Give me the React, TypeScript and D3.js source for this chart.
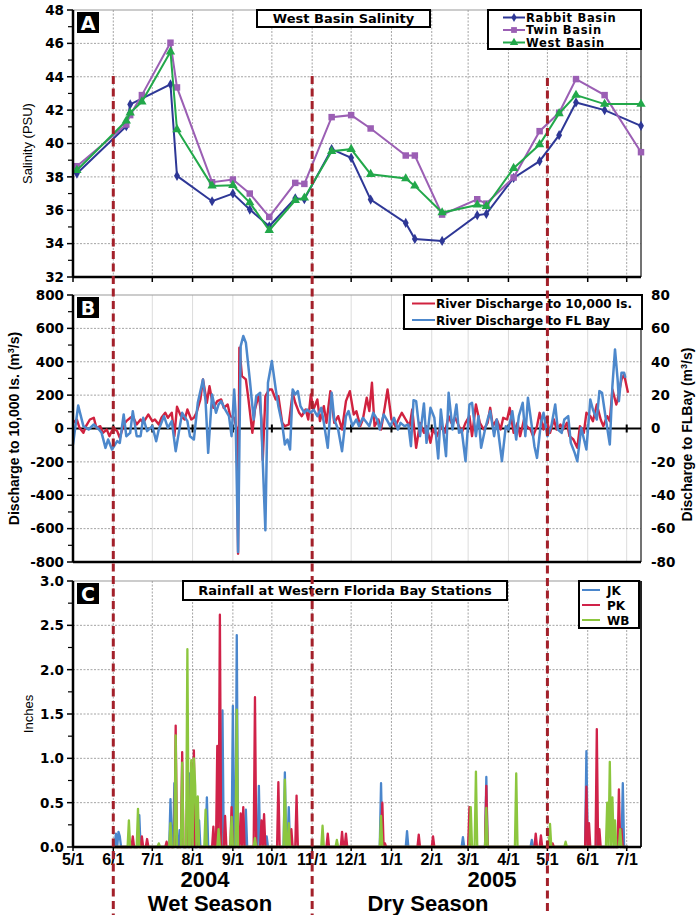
import React from "react";
import * as d3 from "d3";

const W = 697;
const H = 915;
const START = new Date(2004, 4, 1);
const END = new Date(2005, 6, 12);

// Panel A: salinity samples (PSU)
const salinityDates = [
  "2004-05-04", "2004-06-11", "2004-06-14", "2004-06-23", "2004-07-15", "2004-07-20",
  "2004-08-16", "2004-09-01", "2004-09-14", "2004-09-29", "2004-10-19", "2004-10-26",
  "2004-11-16", "2004-12-01", "2004-12-16", "2005-01-12", "2005-01-19", "2005-02-09",
  "2005-03-08", "2005-03-15", "2005-04-05", "2005-04-25", "2005-05-10", "2005-05-23",
  "2005-06-14", "2005-07-12",
];
const rabbitBasin = [38.2, 41.04, 42.34, null, 43.54, 38.06, 36.54, 37.0, 36.04, 35.04, 36.72, 36.66, 39.66, 39.14, 36.64, 35.24, 34.28, 34.16, 35.7, 35.78, 37.94, 38.94, 40.5, 42.46, 42.0, 41.06];
const twinBasin = [38.64, 41.14, 41.7, 42.9, 46.04, 43.36, 37.68, 37.84, 37.0, 35.6, 37.64, 37.58, 41.58, 41.7, 40.9, 39.28, 39.28, 35.74, 36.66, 36.4, 37.96, 40.74, 41.84, 43.86, 42.9, 39.48];
const westBasin = [38.4, 41.36, 41.84, 42.5, 45.5, 40.84, 37.46, 37.5, 36.46, 34.8, 36.6, 36.74, 39.54, 39.66, 38.16, 37.9, 37.46, 35.86, 36.32, 36.24, 38.52, 39.94, 41.8, 42.9, 42.36, 42.36];

// Panel B: [days since 5/1/2004, m3/s]
const dischargeIslands: [number, number][] = [
  [0, 34], [3, 54], [5, 4], [8, -26], [10, 14], [13, 54], [16, 64], [18, 4], [21, 14], [23, -26], [26, -6], [28, -46],
  [31, 4], [34, -16], [36, -56], [39, 24], [41, 44], [44, 64], [46, 74], [49, 24], [52, 54], [54, 34], [58, 84], [61, 44],
  [63, 54], [66, 24], [68, 64], [71, 94], [73, 64], [76, 94], [78, -46], [80, 130], [83, 74], [86, 54], [88, 114], [91, 54],
  [93, 64], [95, 94], [98, 174], [100, 294], [103, 154], [105, 254], [108, 124], [111, 164], [114, 174], [116, 124], [119, 144],
  [121, 74], [124, 64], [126, -6], [127, -750], [128, 484], [130, 314], [133, 294], [135, 174], [138, -26], [140, 114], [143, 204],
  [145, 54], [146, -190], [148, 194], [151, 234], [153, 234], [156, 174], [158, 194], [161, 34], [163, 14], [166, 24], [169, 214],
  [171, 154], [174, 94], [176, 74], [179, 114], [181, 54], [183, 204], [185, 114], [188, 174], [190, 44], [193, 134], [195, 34],
  [198, 224], [201, 34], [204, 74], [207, -6], [210, 164], [213, 224], [216, 84], [218, 104], [221, 14], [223, 54], [226, 184],
  [228, 104], [230, 274], [232, 14], [235, 54], [237, -6], [240, 134], [242, 234], [245, 54], [248, 14], [251, 64], [253, 94],
  [256, 54], [259, 14], [261, 114], [264, -116], [267, 34], [270, -26], [272, 14], [275, -86], [277, -6], [280, -46], [283, 14],
  [286, -26], [289, 74], [291, 34], [294, 64], [297, 14], [299, -26], [302, 34], [305, 74], [307, -46], [310, 144], [313, 34],
  [316, -6], [319, 34], [321, 124], [323, 14], [326, 54], [329, -6], [331, 64], [334, 54], [336, 124], [339, -26], [342, 34],
  [344, -46], [347, 54], [349, 14], [352, -6], [354, -46], [357, 14], [359, 94], [362, -6], [364, 64], [367, -26], [370, 54],
  [372, -6], [375, 24], [377, -6], [380, 34], [382, -46], [385, -66], [388, -116], [390, 14], [393, -26], [395, 94], [398, 74],
  [400, 44], [403, 144], [406, 54], [408, 14], [411, 74], [413, 44], [415, 234], [418, 144], [419, 174], [422, 294], [424, 324],
  [427, 214],
];
const dischargeFLBay: [number, number][] = [
  [0, -9.6], [4, 13.8], [8, 1.4], [12, -0.6], [16, 2.4], [20, -0.6], [22, -2.6], [25, -11.6], [27, -6.6], [30, -12.6], [34, -7.6],
  [36, -8.6], [39, 8.4], [41, -4.6], [44, -2.6], [46, 10.4], [49, -4.6], [52, -4.6], [54, 6.4], [57, -1.6], [61, 1.4], [64, -7.6],
  [66, -0.6], [70, 7.4], [73, 0.4], [76, 4.4], [79, -13.6], [82, 0.4], [84, 9.4], [88, 4.4], [90, -4.6], [93, -6.6], [96, 15.4],
  [100, 29.4], [102, 16.4], [104, -14.6], [107, 20.4], [110, 9.4], [112, 14.4], [114, 16.4], [117, 11.4], [120, 7.4], [122, -4.6],
  [124, 23.4], [125, 10.4], [127, -74], [129, 49.4], [131, 55.4], [133, 51.4], [136, 29.4], [139, 5.4], [141, 19.4], [144, 21.4],
  [148, -61], [150, 27.4], [153, 40.4], [156, 23.4], [158, 13.4], [161, 2.4], [163, -9.6], [165, -6.6], [167, -12.6], [169, 23.4],
  [171, 20.4], [173, 22.4], [175, 13.4], [178, 9.4], [180, 11.4], [183, 9.4], [185, 11.4], [188, 7.4], [191, 12.4], [193, 3.4],
  [196, -11.6], [199, 21.4], [201, 5.4], [204, -0.6], [207, -13.6], [210, 7.4], [212, 10.4], [215, 1.4], [218, 5.4], [220, 1.4],
  [223, 6.4], [226, 3.4], [228, 1.4], [231, 9.4], [234, 5.4], [236, -0.6], [239, 8.4], [242, 4.4], [244, 1.4], [247, 6.4],
  [250, -0.6], [252, 3.4], [255, 1.4], [258, 2.4], [260, -10.6], [262, 17.0], [264, 16.4], [267, -4.6], [270, 15.0], [272, -8.6],
  [275, 12.4], [278, 6.4], [281, -18.0], [283, 11.4], [287, -16.6], [289, 21.4], [292, -0.6], [295, 14.4], [297, -2.6], [299, -0.6],
  [302, -19.6], [305, 14.4], [307, 15.4], [310, -4.6], [312, 7.4], [314, -11.6], [317, -0.6], [319, 5.4], [321, 10.4], [324, -4.6],
  [326, 5.4], [330, -19.6], [333, 1.4], [335, -0.6], [338, 10.4], [341, -6.6], [343, 7.4], [346, 15.4], [348, -4.6], [350, 18.4],
  [353, 1.4], [355, -10.6], [357, -17.6], [360, 3.4], [362, 9.4], [365, -4.6], [368, 1.4], [371, 14.4], [373, -0.6], [376, -2.6],
  [378, 5.4], [381, 7.4], [383, -8.6], [386, -14.6], [388, -19.6], [391, 0.4], [395, -12.6], [398, 17.4], [400, 11.4], [403, 5.4],
  [405, 22.4], [407, 21.4], [410, 5.4], [413, -9.6], [415, 25.4], [417, 47.4], [419, 29.4], [420, 16.4], [422, 33.4], [424, 33.4],
  [425, 30.4],
];

// Panel C: rain days [days since 5/1/2004, inches]; every other day is 0
const rainJK: [number, number][] = [
  [33, 0.15], [35, 0.17], [36, 0.12], [51, 0.36], [75, 0.54], [78, 0.72], [82, 0.19], [90, 0.83], [97, 0.3], [103, 0.56],
  [115, 1.54], [123, 1.59], [126, 2.39], [133, 0.42], [143, 0.69], [149, 0.12], [163, 0.84], [166, 0.45], [237, 0.72],
  [257, 0.18], [300, 0.11], [305, 0.2], [318, 0.79], [353, 0.08], [395, 1.08], [404, 0.2], [420, 0.3], [423, 0.72],
];
const rainPK: [number, number][] = [
  [46, 0.12], [53, 0.12], [57, 0.09], [72, 0.06], [79, 1.37], [84, 1.07], [88, 0.65], [91, 0.95], [93, 1.09], [96, 0.3],
  [108, 0.23], [111, 1.14], [113, 2.62], [117, 0.35], [122, 0.45], [129, 0.38], [131, 0.45], [140, 1.69], [145, 0.3],
  [147, 0.37], [158, 0.73], [168, 0.2], [172, 0.58], [196, 0.15], [207, 0.17], [210, 0.15], [238, 0.5], [240, 0.04],
  [266, 0.14], [277, 0.12], [305, 0.45], [318, 0.69], [356, 0.15], [360, 0.13], [369, 0.04], [395, 0.68], [397, 0.27],
  [403, 1.33], [405, 0.2], [420, 0.65], [422, 0.2],
];
const rainWB: [number, number][] = [
  [43, 0.3], [50, 0.43], [66, 0.04], [75, 0.27], [79, 1.26], [84, 0.95], [88, 2.23], [91, 0.98], [93, 1.0], [94, 0.7],
  [96, 0.57], [102, 0.42], [112, 0.2], [122, 0.34], [126, 1.55], [140, 0.1], [163, 0.76], [166, 0.27], [192, 0.24],
  [203, 0.08], [237, 0.35], [306, 0.45], [310, 0.85], [318, 0.44], [341, 0.83], [367, 0.26], [379, 0.06], [411, 0.5],
  [413, 0.96], [415, 0.56], [417, 0.3], [421, 0.2],
];
const rainFirstDay = 31;
const rainLastDay = 427;

const seasonBreaks = ["2004-06-01", "2004-11-01", "2005-05-01"];

const NUM = "'DejaVu Sans', Verdana, sans-serif";
const NARROW = "'Liberation Sans Narrow', 'Arial Narrow', 'Liberation Sans', Arial, sans-serif";
const GRID = "#9a9a9a";

const parse = d3.timeParse("%Y-%m-%d");
const dayOf = (d: number) => d3.timeDay.offset(START, d);

export default function App() {
  const L = 73, R = 641;
  const A = { top: 10, bottom: 277 };
  const B = { top: 295, bottom: 562 };
  const C = { top: 581, bottom: 847 };

  const x = d3.scaleTime().domain([START, END]).range([L, R]);
  const months = d3.timeMonth.range(START, d3.timeDay.offset(END, 1));
  const fmtMonth = d3.timeFormat("%-m/%-d");

  const yA = d3.scaleLinear().domain([32, 48]).range([A.bottom, A.top]);
  const yB = d3.scaleLinear().domain([-800, 800]).range([B.bottom, B.top]);
  const yB2 = d3.scaleLinear().domain([-80, 80]).range([B.bottom, B.top]);
  const yC = d3.scaleLinear().domain([0, 3]).range([C.bottom, C.top]);

  const salDates = salinityDates.map((s) => parse(s) as Date);
  const salSeries = [
    { name: "Rabbit Basin", values: rabbitBasin, color: "#2e3796", sym: d3.symbolDiamond, size: 30 },
    { name: "Twin Basin", values: twinBasin, color: "#9b5fb4", sym: d3.symbolSquare, size: 42 },
    { name: "West Basin", values: westBasin, color: "#22a84a", sym: d3.symbolTriangle, size: 38 },
  ];
  const salLine = d3.line<[Date, number]>().x((d) => x(d[0])).y((d) => yA(d[1]));

  const lineB = d3.line<[number, number]>().x((d) => x(dayOf(d[0]))).y((d) => yB(d[1]));
  const lineB2 = d3.line<[number, number]>().x((d) => x(dayOf(d[0]))).y((d) => yB2(d[1]));

  const daily = (spikes: [number, number][]) => {
    const m = new Map(spikes);
    return d3.range(rainFirstDay, rainLastDay + 1).map((d) => [d, m.get(d) ?? 0] as [number, number]);
  };
  const lineC = d3.line<[number, number]>().x((d) => x(dayOf(d[0]))).y((d) => yC(d[1]));
  const rainSeries = [
    { name: "JK", values: rainJK, color: "#4a86cc" },
    { name: "PK", values: rainPK, color: "#d02249" },
    { name: "WB", values: rainWB, color: "#8cc63e" },
  ];

  const vGrid = (top: number, bottom: number, style: any) =>
    months.slice(1).map((m, i) => (
      <line key={i} x1={x(m)} x2={x(m)} y1={top} y2={bottom} {...style} />
    ));
  const dotted = { stroke: GRID, strokeWidth: 0.9, strokeDasharray: "2,1.5" };

  const yAxis = (scale: any, ticks: number[], minor: number[], fmt: (v: number) => string) => (
    <g>
      {minor.map((v, i) => (
        <line key={"m" + i} x1={L - 5} x2={L} y1={scale(v)} y2={scale(v)} stroke="#000" strokeWidth={1.2} />
      ))}
      {ticks.map((v, i) => (
        <g key={i}>
          <line x1={L - 6} x2={L} y1={scale(v)} y2={scale(v)} stroke="#000" strokeWidth={1.5} />
          <text x={L - 9} y={scale(v)} dy="0.36em" textAnchor="end" fontFamily={NUM} fontWeight="bold" fontSize={13.5}>
            {fmt(v)}
          </text>
        </g>
      ))}
    </g>
  );

  const panelLetter = (top: number, letter: string) => (
    <g>
      <rect x={77} y={top + 2} width={22} height={21} fill="#000" />
      <text x={88} y={top + 19.5} textAnchor="middle" fill="#fff" fontFamily={NUM} fontWeight="bold" fontSize={19}>
        {letter}
      </text>
    </g>
  );

  return (
    <svg width={W} height={H} style={{ position: "absolute", left: 0, top: 0, background: "#fff" }}>
      {/* ---------- Panel A ---------- */}
      <g>
        {d3.range(34, 48, 2).map((v) => (
          <line key={v} x1={L} x2={R} y1={yA(v)} y2={yA(v)} {...dotted} />
        ))}
        {vGrid(A.top, A.bottom, dotted)}
        <line x1={L} x2={R} y1={A.top} y2={A.top} stroke="#999" strokeWidth={1} />
        <line x1={R} x2={R} y1={A.top} y2={A.bottom} stroke="#444" strokeWidth={1.5} />
        {salSeries.map((s) => {
          const pts = salDates
            .map((d, i) => [d, s.values[i]] as [Date, number | null])
            .filter((p) => p[1] != null) as [Date, number][];
          return (
            <g key={s.name}>
              <path d={salLine(pts) || ""} fill="none" stroke={s.color} strokeWidth={2} />
              {pts.map((p, i) => (
                <path key={i} d={d3.symbol(s.sym, s.size)() || ""} transform={`translate(${x(p[0])},${yA(p[1])})`} fill={s.color} />
              ))}
            </g>
          );
        })}
        <line x1={L} x2={L} y1={A.top} y2={A.bottom} stroke="#000" strokeWidth={2.5} />
        <line x1={L} x2={R} y1={A.bottom} y2={A.bottom} stroke="#000" strokeWidth={2.5} />
        {months.map((m, i) => (
          <line key={i} x1={x(m)} x2={x(m)} y1={A.bottom} y2={A.bottom + 5} stroke="#000" strokeWidth={1.5} />
        ))}
        {yAxis(yA, d3.range(32, 49, 2), d3.range(33, 48, 2), (v) => String(v))}
        <text transform={`translate(32,${(A.top + A.bottom) / 2}) rotate(-90)`} textAnchor="middle" fontFamily={NARROW} fontSize={13}>
          Salinity (PSU)
        </text>
        {panelLetter(A.top, "A")}
        <rect x={257} y={A.top} width={173} height={17} fill="#fff" stroke="#000" strokeWidth={2} />
        <text x={343.5} y={A.top + 13} textAnchor="middle" fontFamily={NUM} fontWeight="bold" fontSize={13}>
          West Basin Salinity
        </text>
        <rect x={488} y={A.top} width={153} height={39} fill="#fff" stroke="#000" strokeWidth={2} />
        {salSeries.map((s, i) => {
          const ly = A.top + 7.5 + i * 12.5;
          return (
            <g key={s.name}>
              <line x1={503} x2={525} y1={ly} y2={ly} stroke={s.color} strokeWidth={2} />
              <path d={d3.symbol(s.sym, s.size * 0.8)() || ""} transform={`translate(514,${ly})`} fill={s.color} />
              <text x={526} y={ly + 4} fontFamily={NUM} fontWeight="bold" fontSize={11.5} letterSpacing={0.7}>
                {s.name}
              </text>
            </g>
          );
        })}
      </g>

      {/* ---------- Panel B ---------- */}
      <g>
        {vGrid(B.top, B.bottom, { stroke: "#dcdcdc", strokeWidth: 1 })}
        {d3.range(-600, 800, 200).filter((v) => v !== 0).map((v) => (
          <line key={v} x1={L} x2={R} y1={yB(v)} y2={yB(v)} {...dotted} />
        ))}
        <line x1={L} x2={R} y1={B.top} y2={B.top} stroke="#999" strokeWidth={1} />
        <line x1={R} x2={R} y1={B.top} y2={B.bottom} stroke="#444" strokeWidth={1.5} />
        <line x1={L} x2={R} y1={yB(0)} y2={yB(0)} stroke="#000" strokeWidth={2} />
        {months.slice(1).map((m, i) => (
          <line key={i} x1={x(m)} x2={x(m)} y1={yB(0) - 4} y2={yB(0) + 4} stroke="#000" strokeWidth={2} />
        ))}
        <path d={lineB(dischargeIslands) || ""} fill="none" stroke="#d0223f" strokeWidth={2.4} strokeLinejoin="round" />
        <path d={lineB2(dischargeFLBay) || ""} fill="none" stroke="#4d88cc" strokeWidth={2.5} strokeLinejoin="round" />
        <line x1={L} x2={L} y1={B.top} y2={B.bottom} stroke="#000" strokeWidth={2.5} />
        <line x1={L} x2={R} y1={B.bottom} y2={B.bottom} stroke="#000" strokeWidth={2.5} />
        {yAxis(yB, d3.range(-800, 801, 200), d3.range(-700, 800, 200), (v) => String(v))}
        {d3.range(-80, 81, 20).map((v) => (
          <text key={v} x={R + 10} y={yB2(v)} dy="0.36em" fontFamily={NUM} fontWeight="bold" fontSize={13.5}>
            {v}
          </text>
        ))}
        <text transform={`translate(19,${(B.top + B.bottom) / 2}) rotate(-90)`} textAnchor="middle" fontFamily={NARROW} fontWeight="bold" fontSize={14}>
          Discharge to 10,000 Is. (m<tspan dy={-5} fontSize={9}>3</tspan><tspan dy={5}>/s)</tspan>
        </text>
        <text transform={`translate(692,${(B.top + B.bottom) / 2 + 6}) rotate(-90)`} textAnchor="middle" fontFamily={NARROW} fontWeight="bold" fontSize={14}>
          Discharge to FLBay (m<tspan dy={-5} fontSize={9}>3</tspan><tspan dy={5}>/s)</tspan>
        </text>
        {panelLetter(B.top, "B")}
        <rect x={404} y={B.top} width={238} height={34} fill="#fff" stroke="#000" strokeWidth={2} />
        {[
          { name: "River Discharge to 10,000 Is.", color: "#d0223f" },
          { name: "River Discharge to FL Bay", color: "#4d88cc" },
        ].map((s, i) => {
          const ly = B.top + 8.5 + i * 16.5;
          return (
            <g key={s.name}>
              <line x1={412} x2={435} y1={ly} y2={ly} stroke={s.color} strokeWidth={2} />
              <text x={436} y={ly + 4.5} fontFamily={NUM} fontWeight="bold" fontSize={12}>
                {s.name}
              </text>
            </g>
          );
        })}
      </g>

      {/* ---------- Panel C ---------- */}
      <g>
        {d3.range(0.5, 3, 0.5).map((v) => (
          <line key={v} x1={L} x2={R} y1={yC(v)} y2={yC(v)} {...dotted} />
        ))}
        {vGrid(C.top, C.bottom, dotted)}
        <line x1={L} x2={R} y1={C.top} y2={C.top} stroke="#999" strokeWidth={1} />
        <line x1={R} x2={R} y1={C.top} y2={C.bottom} stroke="#222" strokeWidth={2} />
        {rainSeries.map((s) => (
          <path key={s.name} d={lineC(daily(s.values)) || ""} fill="none" stroke={s.color} strokeWidth={2.3} strokeLinejoin="round" />
        ))}
        <line x1={L} x2={L} y1={C.top} y2={C.bottom} stroke="#000" strokeWidth={2.5} />
        <line x1={L} x2={R} y1={C.bottom} y2={C.bottom} stroke="#000" strokeWidth={2.5} />
        {months.map((m, i) => (
          <line key={i} x1={x(m)} x2={x(m)} y1={C.bottom} y2={C.bottom + 4} stroke="#000" strokeWidth={1.5} />
        ))}
        {yAxis(yC, d3.range(0, 3.01, 0.5), d3.range(0.25, 3, 0.5), (v) => v.toFixed(1))}
        <text transform={`translate(33,${(C.top + C.bottom) / 2}) rotate(-90)`} textAnchor="middle" fontFamily={NARROW} fontSize={13}>
          Inches
        </text>
        {panelLetter(C.top, "C")}
        <rect x={183} y={C.top} width={324} height={19} fill="#fff" stroke="#000" strokeWidth={2} />
        <text x={345} y={C.top + 14} textAnchor="middle" fontFamily={NUM} fontWeight="bold" fontSize={13}>
          Rainfall at Western Florida Bay Stations
        </text>
        <rect x={579} y={C.top} width={60} height={47} fill="#fff" stroke="#000" strokeWidth={2} />
        {rainSeries.map((s, i) => {
          const ly = C.top + 9 + i * 15;
          return (
            <g key={s.name}>
              <line x1={582} x2={600} y1={ly} y2={ly} stroke={s.color} strokeWidth={2} />
              <text x={607} y={ly + 4.5} fontFamily={NUM} fontWeight="bold" fontSize={12}>
                {s.name}
              </text>
            </g>
          );
        })}
      </g>

      {/* ---------- x labels ---------- */}
      {months.map((m, i) => (
        <text key={i} x={x(m)} y={865} textAnchor="middle" fontFamily={NARROW} fontWeight="bold" fontSize={16}>
          {fmtMonth(m)}
        </text>
      ))}
      <text x={205} y={887} textAnchor="middle" fontFamily={NARROW} fontWeight="bold" fontSize={22}>2004</text>
      <text x={492} y={887} textAnchor="middle" fontFamily={NARROW} fontWeight="bold" fontSize={22}>2005</text>
      <text x={210} y={911} textAnchor="middle" fontFamily={NARROW} fontWeight="bold" fontSize={22}>Wet Season</text>
      <text x={428} y={911} textAnchor="middle" fontFamily={NARROW} fontWeight="bold" fontSize={22}>Dry Season</text>

      {/* ---------- season breaks ---------- */}
      {seasonBreaks.map((s, i) => {
        const xx = x(parse(s) as Date);
        return (
          <line key={s} x1={xx} x2={xx} y1={i === 2 ? 78 : 76} y2={H} stroke="#a3202a" strokeWidth={3} strokeDasharray="8,4.5" />
        );
      })}
    </svg>
  );
}
